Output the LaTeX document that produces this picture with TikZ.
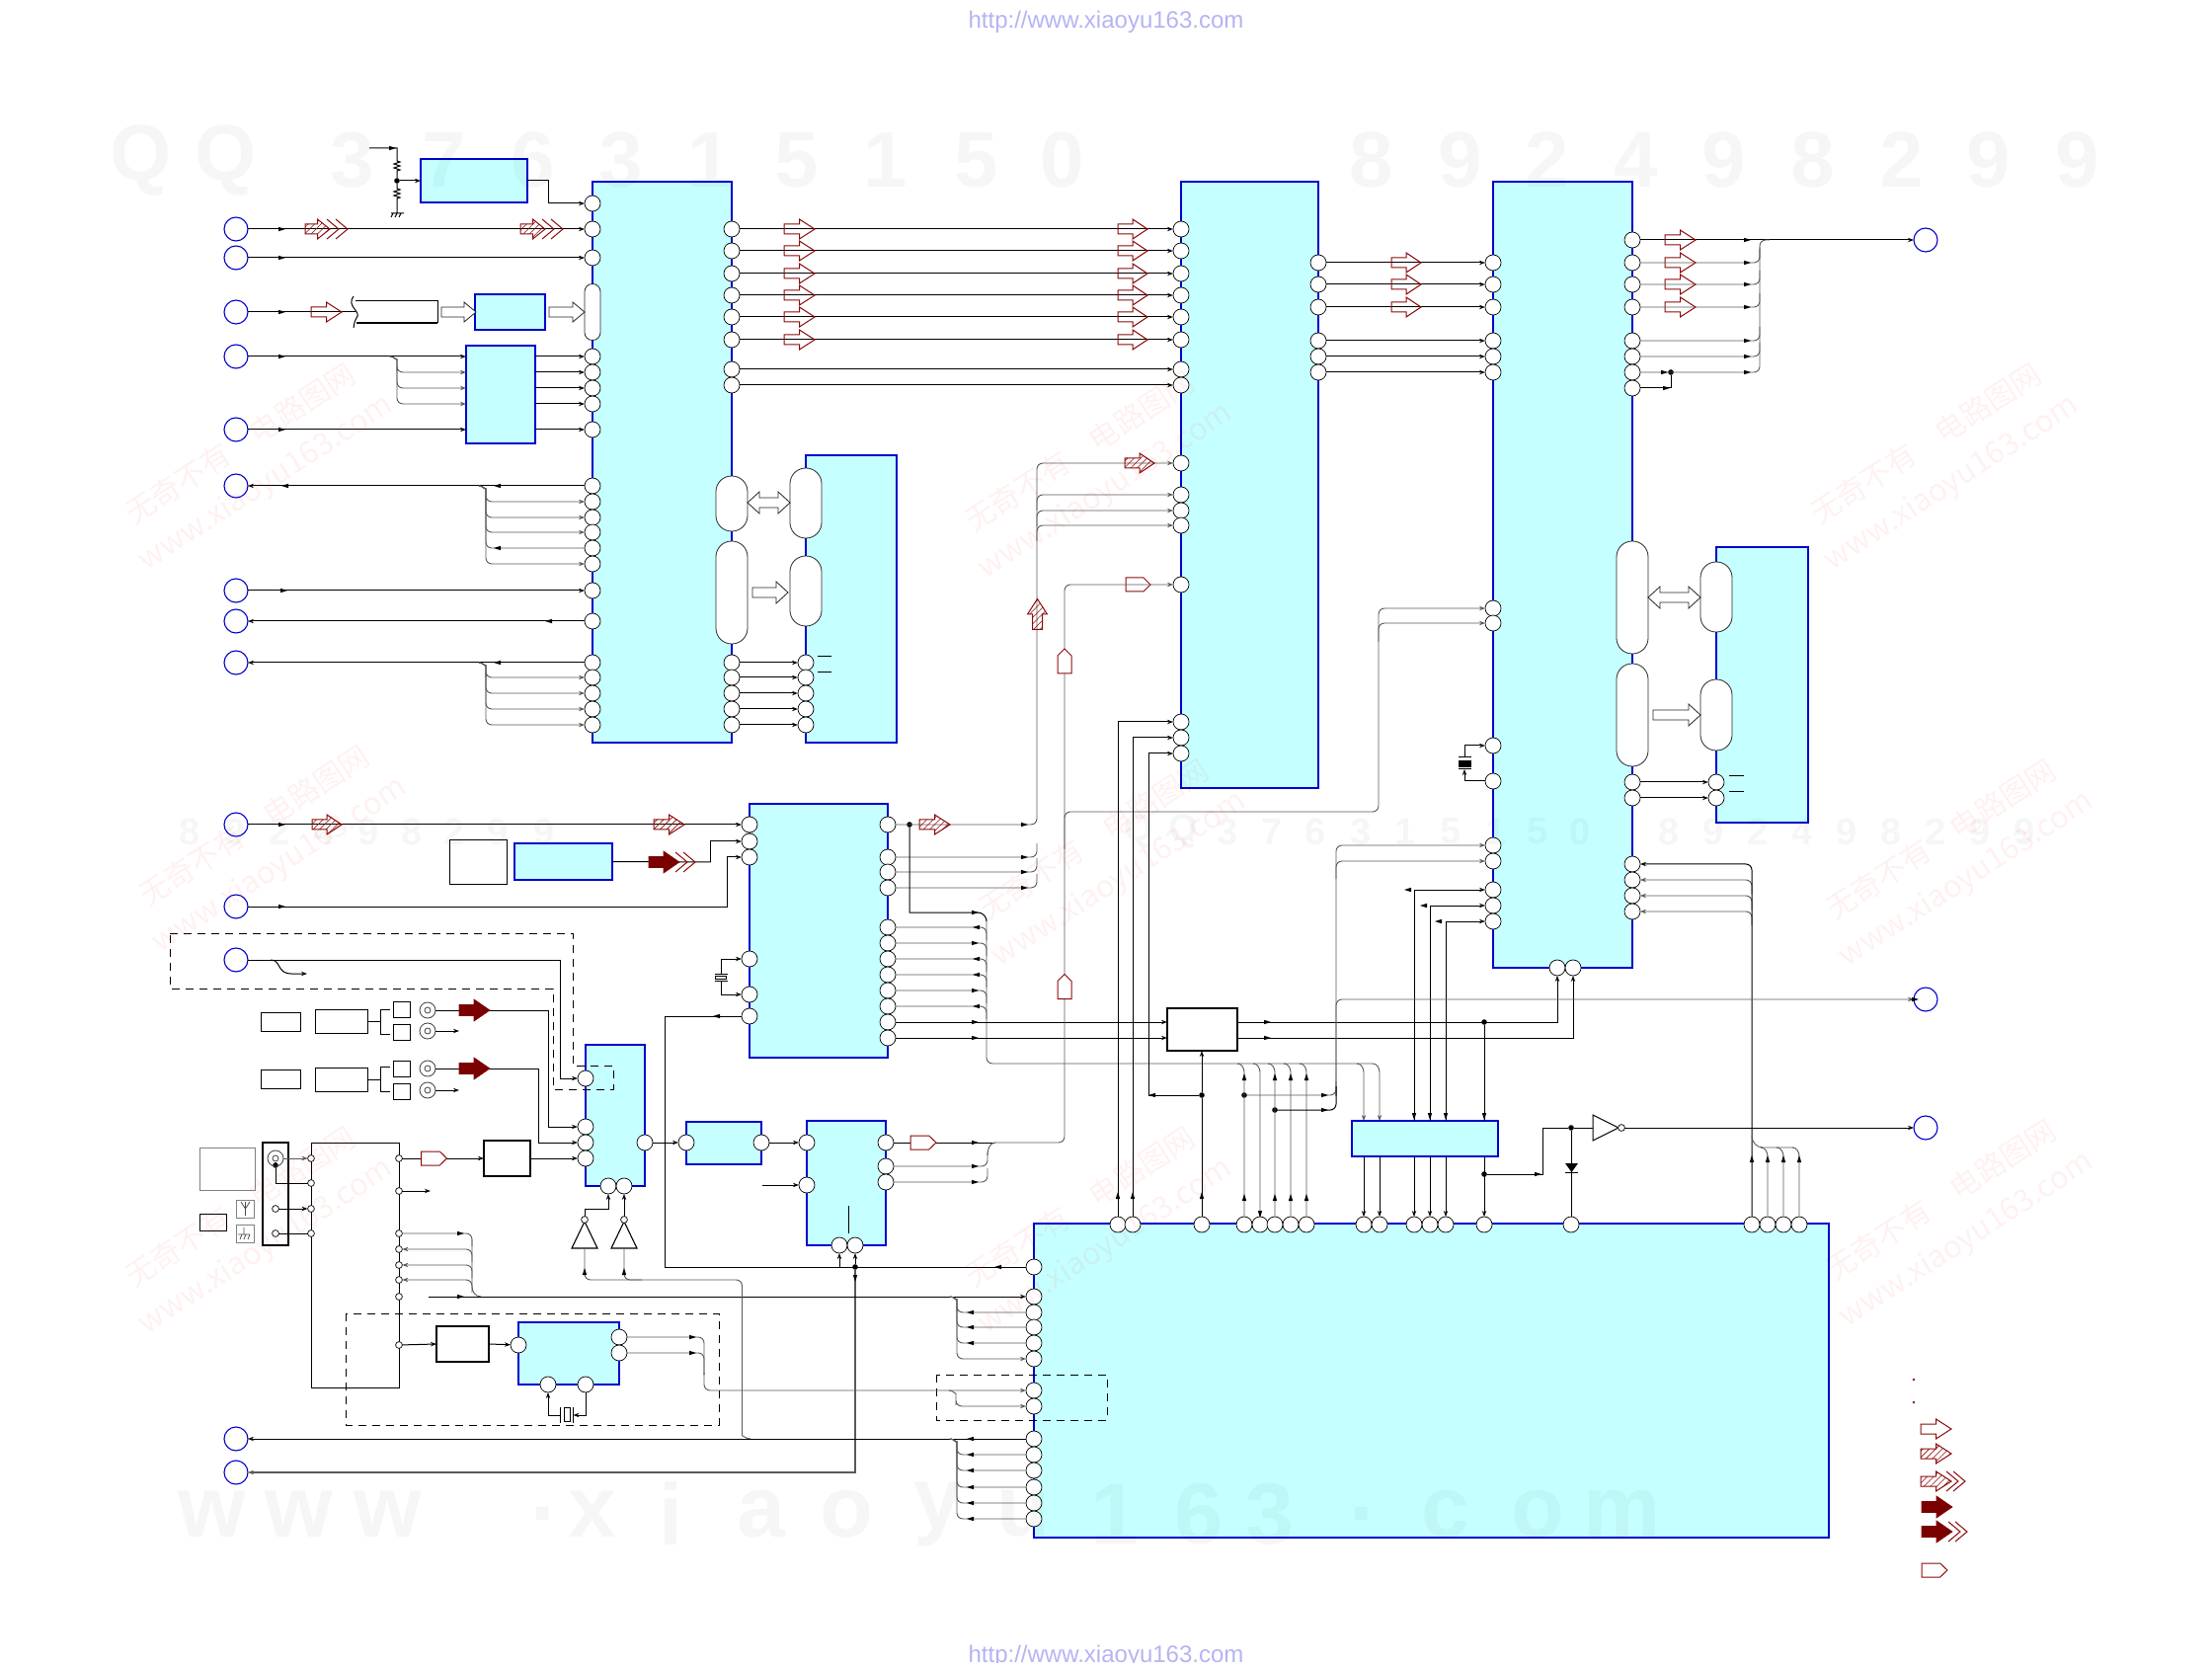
\documentclass[tikz,border=0pt]{standalone}
\usepackage{fontspec}
\setmainfont{Liberation Sans}
\newfontfamily\cjk{Noto Sans CJK SC}
\usetikzlibrary{arrows.meta,patterns.meta,calc}
\definecolor{icfill}{HTML}{C6FFFF}
\definecolor{icblue}{HTML}{0000CC}
\definecolor{dred}{HTML}{8B0A0A}
\definecolor{sred}{HTML}{7B0000}
\definecolor{urlc}{HTML}{B4B4F4}
\tikzset{
 w/.style={draw=black,line width=.5pt,>={Stealth[length=3pt,width=2.2pt]}},
 bw/.style={draw=black!65,line width=.45pt,>={Stealth[length=3pt,width=2.2pt]}},
 rc/.style={rounded corners=3pt},
 ic/.style={draw=icblue,fill=icfill,line width=.6pt},
 ict/.style={draw=icblue,fill=icfill,line width=1pt},
 pl/.style={draw=black,line width=.5pt},
 plt/.style={draw=black,line width=1.1pt},
 gb/.style={draw=black!50,line width=.5pt},
 pinc/.style={circle,draw=black,fill=white,line width=.35pt,inner sep=0,outer sep=0,minimum size=8pt},
 spinc/.style={circle,draw=black,fill=white,line width=.35pt,inner sep=0,outer sep=0,minimum size=3.4pt},
 termc/.style={circle,draw=icblue,fill=white,line width=.55pt,inner sep=0,outer sep=0,minimum size=12pt},
 dotc/.style={circle,fill=black,inner sep=0,outer sep=0,minimum size=2.8pt},
 capsl/.style={draw=black!85,fill=white,line width=.4pt,rounded corners=7.9pt,inner sep=0,outer sep=0,minimum width=16pt},
 rh/.style={draw=dred,line width=.5pt},
 rhat/.style={draw=dred,line width=.5pt,pattern={Lines[angle=45,distance=2.3pt,line width=.3pt]},pattern color=dred},
 rsol/.style={fill=sred,draw=sred,line width=.3pt},
 gh/.style={draw=black!85,fill=white,line width=.4pt},
 wmd/.style={text=red,text opacity=.055,rotate=33,font=\cjk\fontsize{15}{19}\selectfont,align=center},
 wmq/.style={text=black,text opacity=.035,font=\bfseries\fontsize{40}{40}\selectfont},
 wms/.style={text=black,text opacity=.035,font=\bfseries\fontsize{19}{19}\selectfont},
 wmw/.style={text=black,text opacity=.035,font=\bfseries\fontsize{44}{44}\selectfont},
}
\newcommand\bx[6]{\pgfmathsetmacro\bw{(#4-#2)*.5}\pgfmathsetmacro\bh{(#5-#3)*.5}%
 \node[#6,inner sep=0,outer sep=0,minimum width=\bw pt,minimum height=\bh pt,anchor=north west] (#1) at (#2,#3) {};}
\newcommand\tk[3]{\fill[black,rotate around={#3:(#1,#2)}] (#1-4,#2-2.2) -- (#1+3,#2) -- (#1-4,#2+2.2) -- cycle;}
\newcommand\branch[4][-]{\draw[bw,rc,#1] (#2-7,#3) to[out=0,in=90] (#2,#3+9) |- (#4);}
\newcommand\vbr[4][-]{\draw[bw,#1] (#2-7,#3) to[out=0,in=90] (#2,#3+9) -- (#4);}
\newcommand\arHol[4][]{\draw[rh,#1] (#2,#3-5) -- ++(#4*.5,0) -- ++(0,-5) -- (#2+#4,#3) -- (#2+#4*.5,#3+10) -- ++(0,-5) -- (#2,#3+5) -- cycle;}
\newcommand\arHat[4][]{\draw[rhat,#1] (#2,#3-5) -- ++(#4*.5,0) -- ++(0,-5) -- (#2+#4,#3) -- (#2+#4*.5,#3+10) -- ++(0,-5) -- (#2,#3+5) -- cycle;}
\newcommand\arSol[2]{\fill[rsol] (#1,#2-5.5) -- ++(15,0) -- ++(0,-5.5) -- (#1+31,#2) -- (#1+15,#2+11) -- ++(0,-5.5) -- (#1,#2+5.5) -- cycle;}
\newcommand\chev[2]{\draw[rh] (#1-12,#2-10) -- (#1,#2) -- (#1-12,#2+10);}
\newcommand\tagp[4][]{\draw[rh,fill=white,#1] (#2,#3-7) -- (#2+#4*.72,#3-7) -- (#2+#4,#3) -- (#2+#4*.72,#3+7) -- (#2,#3+7) -- cycle;}
\newcommand\arGr[4]{\draw[gh] (#1,#3-5) -- (#2-12,#3-5) -- (#2-12,#3-#4) -- (#2,#3) -- (#2-12,#3+#4) -- (#2-12,#3+5) -- (#1,#3+5) -- cycle;}
\newcommand\arDbl[3]{\draw[gh] (#1,#3) -- (#1+12,#3-11) -- (#1+12,#3-5) -- (#2-12,#3-5) -- (#2-12,#3-11) -- (#2,#3) -- (#2-12,#3+11) -- (#2-12,#3+5) -- (#1+12,#3+5) -- (#1+12,#3+11) -- cycle;}
\newcommand\jack[3]{\node[circle,draw=black!75,line width=.4pt,inner sep=0,outer sep=0,minimum size=8pt] (#1) at (#2,#3) {};\draw[black!75,line width=.4pt] (#2,#3) circle[radius=3];}
\begin{document}
\begin{tikzpicture}[x=.5pt,y=-.5pt]
\fill[white] (0,0) rectangle (2240,1684);
\useasboundingbox (0,0) rectangle (2240,1684);
\node[text=urlc,font=\fontsize{12}{14}\selectfont] (urlt) at (1120,22) {http://www.xiaoyu163.com};
\node[text=urlc,font=\fontsize{12}{14}\selectfont] (urlb) at (1120,1677) {http://www.xiaoyu163.com};
% ---------- large blocks
\bx{IA}{600}{184}{741}{752}{ic}
\bx{IB}{816}{461}{908}{752}{ic}
\bx{IC}{1196}{184}{1335}{798}{ic}
\bx{ID}{1512}{184}{1653}{980}{ic}
\bx{IE}{1738}{554}{1831}{833}{ic}
\bx{IF}{759}{814}{899}{1071}{ict}
\bx{IG}{593}{1058}{653}{1201}{ict}
\bx{IH}{695}{1136}{771}{1179}{ict}
\bx{II}{817}{1135}{897}{1261}{ict}
\bx{IJ}{1047}{1239}{1852}{1557}{ic}
\bx{IK}{1369}{1135}{1517}{1171}{ict}
\bx{IL}{525}{1339}{627}{1402}{ic}
\bx{BA}{426}{161}{534}{205}{ict}
\bx{BB}{481}{298}{552}{334}{ict}
\bx{IP}{472}{350}{542}{449}{ic}
\bx{IM}{521}{854}{620}{891}{ic}
\bx{EM}{455}{851}{513}{895}{pl}
\bx{SW}{1182}{1021}{1253}{1064}{plt}
\bx{BX}{490}{1155}{537}{1191}{plt}
\bx{BK}{442}{1343}{495}{1379}{plt}
\bx{TU}{315}{1157}{404}{1405}{pl}
\bx{CN}{266}{1157}{292}{1261}{plt}
\bx{G1}{202}{1162}{258}{1205}{gb}
\bx{G2}{202}{1229}{229}{1246}{pl}
\bx{G3}{239}{1215}{257}{1233}{gb}
\bx{G4}{239}{1240}{257}{1258}{gb}
\bx{FLT}{360}{305}{443}{327}{draw=none}
% left-hand small boxes
\bx{L1}{264}{1025}{304}{1044}{pl}
\bx{L2}{319}{1022}{372}{1046}{pl}
\bx{L3}{398}{1014}{415}{1030}{pl}
\bx{L4}{398}{1037}{415}{1053}{pl}
\bx{M1}{264}{1083}{304}{1102}{pl}
\bx{M2}{319}{1081}{372}{1105}{pl}
\bx{M3}{398}{1074}{415}{1090}{pl}
\bx{M4}{398}{1097}{415}{1113}{pl}
% ---------- dashed outlines
\draw[black,line width=.5pt,dash pattern=on 4pt off 3pt] (172,945) -- (580,945) -- (580,1079) -- (621,1079) -- (621,1103) -- (560,1103) -- (560,1001) -- (172,1001) -- cycle;
\draw[black,line width=.5pt,dash pattern=on 4pt off 3pt] (350,1330) rectangle (728,1443);
\draw[black,line width=.5pt,dash pattern=on 4pt off 3pt] (948,1392) rectangle (1121,1438);
% ---------- pins
\foreach \y in {206,232,261,361,377,393,409,435,492,508,524,539,555,571,598,629,671,686,702,718,734} \node[pinc] (A\y) at (600,\y) {};
\foreach \y in {232,254,277,299,321,344,374,390,671,686,702,718,734} \node[pinc] (Ar\y) at (741,\y) {};
\foreach \y in {671,686,702,718,734} \node[pinc] (B\y) at (816,\y) {};
\foreach \y in {232,254,277,299,321,344,374,390,469,501,517,532,592,731,747,763} \node[pinc] (C\y) at (1196,\y) {};
\foreach \y in {266,288,311,345,361,377} \node[pinc] (Cr\y) at (1335,\y) {};
\foreach \y in {266,288,311,345,361,377,616,631,755,791,856,872,901,917,933} \node[pinc] (D\y) at (1512,\y) {};
\foreach \y in {243,266,288,311,345,361,377,393,792,808,875,891,907,923} \node[pinc] (Dr\y) at (1653,\y) {};
\foreach \y in {792,808} \node[pinc] (E\y) at (1738,\y) {};
\foreach \x in {1577,1593} \node[pinc] (Db\x) at (\x,980) {};
\foreach \y in {835,852,868,971,1007,1029} \node[pinc] (F\y) at (759,\y) {};
\foreach \y in {835,868,883,899,939,955,971,987,1003,1019,1035,1051} \node[pinc] (Fr\y) at (899,\y) {};
\foreach \y in {1092,1141,1157,1173} \node[pinc] (G\y) at (593,\y) {};
\node[pinc] (Gr1157) at (653,1157) {};
\node[pinc] (Gb616) at (616,1201) {};
\node[pinc] (Gb632) at (632,1201) {};
\node[pinc] (H1) at (695,1157) {};
\node[pinc] (H2) at (771,1157) {};
\foreach \y in {1157,1200} \node[pinc] (I\y) at (817,\y) {};
\foreach \y in {1157,1181,1197} \node[pinc] (Ir\y) at (897,\y) {};
\node[pinc] (Ib850) at (850,1261) {};
\node[pinc] (Ib866) at (866,1261) {};
\foreach \x in {1132,1147,1217,1260,1276,1291,1307,1323,1381,1397,1432,1448,1464,1503,1591,1774,1790,1806,1822} \node[pinc] (J\x) at (\x,1240) {};
\foreach \y in {1283,1313,1329,1344,1360,1376,1408,1424,1457,1473,1489,1506,1522,1538} \node[pinc] (K\y) at (1047,\y) {};
\node[pinc] (P1) at (525,1362) {};
\node[pinc] (P2) at (627,1354) {};
\node[pinc] (P3) at (627,1370) {};
\node[pinc] (P4) at (555,1402) {};
\node[pinc] (P5) at (593,1402) {};
\foreach \y in {1173,1198,1224,1249} \node[spinc] (Tl\y) at (315,\y) {};
\foreach \y in {1173,1206,1249,1265,1281,1296,1313,1362} \node[spinc] (Tr\y) at (404,\y) {};
\node[spinc] (c1224) at (279,1224) {};
\node[spinc] (c1249) at (279,1249) {};
% capsules
\node[capsl,minimum width=8pt,minimum height=28.5pt,rounded corners=3.9pt] (Acap) at (600,316) {};
\node[capsl,minimum height=28pt] (Ac1) at (741,510) {};
\node[capsl,minimum height=52pt] (Ac2) at (741,600) {};
\node[capsl,minimum height=35.5pt] (Bc1) at (816,509.5) {};
\node[capsl,minimum height=35.5pt] (Bc2) at (816,598.5) {};
\node[capsl,minimum height=57pt] (Dc1) at (1653,605) {};
\node[capsl,minimum height=52pt] (Dc2) at (1653,724) {};
\node[capsl,minimum height=35.5pt] (Ec1) at (1738,604.5) {};
\node[capsl,minimum height=36pt] (Ec2) at (1738,724) {};
% terminals
\foreach \y in {232,261,316,361,435,492,598,629,671,835,918,972,1457,1491} \node[termc] (T\y) at (239,\y) {};
\foreach \y in {243,1012,1142} \node[termc] (R\y) at (1950,\y) {};
% dots and free ends
\node[dotc] (d183) at (402,183) {};
\node[dotc] (d921) at (921,835) {};
\node[dotc] (d1692) at (1692,377) {};
\node[dotc] (d1217) at (1217,1109) {};
\node[dotc] (d1260) at (1260,1109) {};
\node[dotc] (d1291) at (1291,1124) {};
\node[dotc] (d1503) at (1503,1035) {};
\node[dotc] (d1503b) at (1503,1189) {};
\node[dotc] (d1591) at (1591,1142) {};
\node[dotc] (d866) at (866,1283) {};
\node[dotc] (dj) at (279,1180) {};
\coordinate (rtop) at (374,150);
\coordinate (m1313) at (434,1313);
% ---------- resistor network
\draw[w] (rtop) -- (402,150) -- (402,163) -- ++(3,1) -- ++(-6,2) -- ++(6,2) -- ++(-6,2) -- ++(6,2) -- ++(-3,1) -- (d183) -- (402,191) -- ++(3,1) -- ++(-6,2) -- ++(6,2) -- ++(-6,2) -- ++(6,2) -- ++(-3,1) -- (402,216);
\draw[w] (396,216) -- (409,216) (398,216) -- (396,220) (402,216) -- (400,220) (406,216) -- (404,220);
\tk{398}{150}{0}
\draw[w,->] (d183) -- (BA.west);
\draw[w,->] (BA.east) -- ++(21,0) |- (A206);
% ---------- IC1 left side
\draw[w,->] (T232) -- (A232); \tk{286}{232}{0}
\draw[w,->] (T261) -- (A261); \tk{286}{261}{0}
\draw[w] (T316) -- (FLT.west); \tk{286}{316}{0}
\draw[w,->] (T361) -- (IP.west |- A361); \tk{286}{361}{0}
\draw[w,->] (T435) -- (IP.west |- A435); \tk{286}{435}{0}
\foreach \y in {377,393,409} {\branch[->]{402}{361}{IP.west |- A\y}}
\foreach \y in {361,377,393,409,435} {\draw[w,->] (IP.east |- A\y) -- (A\y);}
\draw[w,<-] (T492) -- (A492); \tk{288}{492}{180} \tk{503}{492}{180}
\foreach \y in {508,524,539,571} {\branch[->]{492}{492}{A\y}}
\branch{492}{492}{A555} \tk{503}{555}{180}
\draw[w,->] (T598) -- (A598); \tk{288}{598}{0}
\draw[w,<-] (T629) -- (A629); \tk{555}{629}{180}
\draw[w,<-] (T671) -- (A671); \tk{503}{671}{180}
\foreach \y in {686,702,718,734} {\branch[->]{492}{671}{A\y}}
% filter
\draw[black,line width=.5pt] (358,300) .. controls (350,310) and (367,316) .. (361,322) .. controls (359,326) .. (358,332);
\draw[black,line width=.5pt] (360,305) -- (443,305) -- (443,327);
\draw[black,line width=1pt] (443,327) -- (361,327);
\arGr{447}{482}{316}{10}
\arGr{556}{592}{316}{10}
% top arrows
\arHat{309}{232}{25}\chev{343}{232}\chev{352}{232}
\arHat{527}{232}{25}\chev{561}{232}\chev{570}{232}
\arHol{315}{316}{31}
% ---------- IC1 to IC3
\foreach \y in {232,254,277,299,321,344} {
  \draw[w,->] (Ar\y) -- (C\y);
  \arHol{794}{\y}{31}
  \arHol{1132}{\y}{30}
}
\foreach \y in {374,390} {\draw[w,->] (Ar\y) -- (C\y);}
\foreach \y in {671,686,702,718,734} {\draw[w,->] (Ar\y) -- (B\y);}
\draw[w] (828,665) -- (842,665) (828,681) -- (842,681);
\arDbl{757}{800}{509}
\arGr{762}{798}{600}{11}
% ---------- IC3 to IC4
\foreach \y in {266,288,311} {
  \draw[w,->] (Cr\y) -- (D\y);
  \arHol{1409}{\y}{30}
}
\foreach \y in {345,361,377} {\draw[w,->] (Cr\y) -- (D\y);}
% ---------- IC4 right
\draw[w,->] (Dr243) -- (R243); \tk{1770}{243}{0}
\foreach \y in {266,288,311} {\arHol{1686}{\y}{31}}
\arHol{1686}{243}{31}
\foreach \y in {266,288,311,345,361} {\draw[bw,rc] (Dr\y) -| (1782,\y-14); \tk{1770}{\y}{0}}
\draw[bw,rc] (Dr377) -| (1782,250); \tk{1770}{377}{0} \tk{1686}{377}{0}
\draw[bw,rc] (1782,262) |- (1792,243);
\draw[w] (Dr393) -| (d1692); \tk{1688}{393}{0}
\draw[w,->] (Dr792) -- (E792);
\draw[w,->] (Dr808) -- (E808);
\draw[w] (1751,786) -- (1766,786) (1751,802) -- (1766,802);
\arDbl{1669}{1722}{605}
\arGr{1674}{1722}{724}{11}
\foreach \y in {891,907,923} {\draw[bw,rc,->] (1774,\y+14) |- (Dr\y);}
\draw[w,rc,->] (J1774) |- (Dr875);
\tk{1774}{1173}{90}
\draw[bw] (1774,1150) to[out=-90,in=180] (1785,1162) -- (1816,1162);
\foreach \x in {1790,1806,1822} {\vbr{\x}{1162}{J\x} \tk{\x}{1173}{90}}
% ---------- crystal at IC4
\draw[w,->] (1483,767) |- (D755);
\draw[w,<-] (1483,779) -- (1483,791) -- (D791);
\draw[w] (1477,767) -- (1490,767) (1477,779) -- (1490,779);
\fill[black] (1477,770) rectangle (1490,777);
% ---------- curved pair into IC4 (616,631)
\draw[bw,rc,->] (1078,860) |- (1396,822) |- (D616);
\draw[bw,rc,->] (1396,650) |- (D631);
% ---------- IC F inputs
\draw[w,->] (T835) -- (F835); \tk{286}{835}{0}
\arHat{316}{835}{30}
\arHat{662}{835}{31}
\draw[w,->] (T918) -- (736,918) |- (F868); \tk{286}{918}{0}
\draw[w] (IM.east) -- (719.5,873);
\draw[w,->] (719.5,873) |- (F852);
\arSol{657}{873}\chev{696}{873}\chev{704}{873}
\draw[w,->] (730,986) |- (F971);
\draw[w,<-] (F1007) -| (730,993);
\draw[black,line width=.5pt] (723.5,986) -- (736.5,986) (723.5,993) -- (736.5,993);
\draw[black,line width=.5pt] (724.5,988) rectangle (735.5,991);
% ---------- IC F outputs
\draw[bw,rc,->] (Fr835) -- (1050,835) |- (C469);
\tk{1038}{835}{0}
\foreach \y in {868,883,899} {\draw[bw,rc] (Fr\y) -| (1050,\y-14); \tk{1038}{\y}{0}}
\foreach \y in {501,517,532} {\draw[bw,rc,->] (1050,\y+16) |- (C\y);}
\arHat{1139}{469}{30}
\tagp{1140}{592}{25}
\arHat[rotate around={90:(1050.5,622)}]{1035}{622}{31}
\draw[w] (d921) |- (990,924) to[out=0,in=90] (999,933);
\tk{988}{924}{0}
\arHat{931}{835}{31}
\foreach \y/\a in {939/180,955/0,971/180,987/180,1003/0,1019/180} {\draw[bw,rc] (Fr\y) -| (999,\y+13); \tk{988}{\y}{\a}}
\draw[bw,rc] (999,930) |- (1390,1077);
\foreach \y in {1035,1051} {\draw[w,->] (Fr\y) -- (SW.west |- Fr\y); \tk{988}{\y}{0}}
\draw[w,->] (SW.east |- Fr1035) -| (Db1577);
\draw[w,->] (SW.east |- Fr1051) -| (Db1593);
\tk{1284}{1035}{0} \tk{1284}{1051}{0}
% pentagon line from F
\draw[w] (Ir1157) -- (1007,1157);
\draw[bw,rc,->] (1007,1157) -- (1078,1157) |- (C592);
\tagp{922}{1157}{26}
\tk{988}{1157}{0}
\tagp[rotate around={90:(1078,669.5)}]{1065.5}{669.5}{25}
\tagp[rotate around={90:(1078,999)}]{1065.5}{999}{25}
\foreach \y in {1181,1197} {\draw[bw,rc] (Ir\y) -| (1000,\y-14); \tk{988}{\y}{0}}
\draw[bw] (1000,1170) to[out=90,in=180] (1008,1157);
% ---------- vertical trunks
\draw[w,->] (J1132) |- (C731); \tk{1132}{1210}{90}
\draw[w,->] (J1147) |- (C747); \tk{1147}{1210}{90}
\draw[w,->] (d1217) -- (1163,1109) |- (C763); \tk{1166}{1109}{180}
\draw[w,->] (J1217) -- (d1217) -- (SW.south -| d1217); \tk{1217}{1210}{90}
\vbr{1260}{1077}{J1260} \tk{1260}{1090}{90} \tk{1260}{1212}{90}
\vbr{1276}{1077}{J1276} \tk{1276}{1230}{-90}
\vbr{1291}{1077}{J1291} \tk{1291}{1090}{90} \tk{1291}{1212}{90}
\vbr{1307}{1077}{J1307} \tk{1307}{1090}{90} \tk{1307}{1212}{90}
\vbr{1323}{1077}{J1323} \tk{1323}{1090}{90} \tk{1323}{1212}{90}
\vbr[->]{1381}{1077}{IK.north -| J1381}
\vbr[->]{1397}{1077}{IK.north -| J1397}
\foreach \x in {1381,1397,1432,1448,1464,1503} {\draw[w,->] (IK.south -| J\x) -- (J\x);}
\draw[w,->] (IK.north -| J1432) |- (D901);
\draw[w,->] (IK.north -| J1448) |- (D917);
\draw[w,->] (IK.north -| J1464) |- (D933);
\tk{1425}{901}{180}\tk{1441}{917}{180}\tk{1456}{933}{180}
\foreach \x in {1432,1448,1464,1503} {\tk{\x}{1131}{-90}}
\draw[w] (d1503) -- (IK.north -| d1503);
% bus 1353
\draw[bw,rc,->] (1353,1110) |- (R1012);
\draw[bw,rc,->] (1353,1110) |- (D856);
\draw[bw,rc,->] (1353,890) |- (D872);
\draw[bw,rc] (d1260) -| (1353,1095); \tk{1342}{1109}{0}
\draw[w,rc] (d1291) -| (1353,1100); \tk{1342}{1124}{0}
\tk{1940}{1012}{0}
% lower right
\draw[w] (d1503b) -- (1562,1189) |- (d1591); \tk{1558}{1189}{0}
\draw[w] (J1591) -- (d1591);
\fill[black] (1585,1178) -- (1598,1178) -- (1591.5,1187) -- cycle;
\draw[w] (1585,1187) -- (1598,1187);
\draw[w] (d1591) -- (1613,1142);
\draw[black,line width=.5pt,fill=white] (1613,1129) -- (1639,1142) -- (1613,1155) -- cycle;
\node[spinc] (bub) at (1642,1142) {};
\draw[w,->] (bub) -- (R1142);
% ---------- left lower region
\draw[w,->] (T972) -- (567,972) |- (G1092);
\draw[w,->] (274,972) .. controls (285,972) and (280,986) .. (295,986) -- (311,986);
\draw[w] (L2.east) -- (385,1034); \draw[w] (395,1022) -- (385,1022) -- (385,1047) -- (395,1047);
\draw[w] (M2.east) -- (385,1093); \draw[w] (395,1080) -- (385,1080) -- (385,1105) -- (395,1105);
\jack{J1}{433}{1023}\jack{J2}{433}{1044}\jack{J3}{433}{1082}\jack{J4}{433}{1104}
\draw[w] (J1) -- (555,1023);
\draw[w,->] (555,1023) |- (G1141);
\draw[w,->] (J2) -- (465,1044);
\draw[w] (J3) -- (545.5,1082);
\draw[w,->] (545.5,1082) |- (G1157);
\draw[w,->] (J4) -- (465,1104);
\arSol{465}{1023}
\arSol{465}{1082}
\draw[w,->] (Gr1157) -- (H1);
\draw[w,->] (H2) -- (I1157);
\draw[w,->] (772,1200) -- (I1200);
\draw[w] (859,1221) -- (859,1249);
\draw[w] (F1029) -- (673,1029) |- (K1283); \tk{725}{1029}{180} \tk{1010}{1283}{180}
\draw[w,->] (Ib850 |- K1283) -- (Ib850);
\draw[w,->] (d866) -- (Ib866);
\draw[bw,line width=.6pt,<-] (T1491) -- (866,1491) -- (d866); \tk{866}{1295}{-90}
% connector block
\jack{J5}{279}{1173}
\draw[bw,->] (J5) -- (Tl1173);
\draw[w] (J5) -- (dj);
\draw[w] (dj) |- (Tl1198);
\draw[w,->] (c1224) -- (Tl1224);
\draw[w] (c1249) -- (Tl1249);
% symbols
\draw[black!70,line width=.4pt] (248.5,1231) -- (248.5,1217) (244,1217) -- (248.5,1224) -- (253,1217);
\draw[black!70,line width=.4pt] (247,1243) -- (247,1250) (241,1250) -- (253,1250) (243,1255) -- (245,1250) (247,1255) -- (249,1250) (251,1255) -- (253,1250);
% tuner outputs
\draw[w,->] (Tr1173) -- (BX.west); \tagp{426.5}{1173}{26}
\draw[w,->] (BX.east) -- (G1173);
\draw[w,->] (Tr1206) -- (436,1206);
\draw[bw,rc] (Tr1249) -| (478,1262); \tk{467}{1249}{0}
\foreach \y in {1265,1281,1296} {\draw[bw,rc,<-] (Tr\y) -| (478,\y+13);}
\draw[bw] (478,1255) -- (478,1303) to[out=-90,in=180] (487,1313);
\draw[w,->] (m1313) -- (K1313); \tk{467}{1313}{0}
\foreach \y in {1329,1344,1360} {\branch{969}{1313}{K\y} \tk{982}{\y}{180}}
\branch[->]{969}{1313}{K1376}
\draw[w,->] (Tr1362) -- (BK.west);
\draw[w,->] (BK.east) -- (P1);
\draw[bw,rc] (P2) -| (713,1392); \tk{702}{1354}{0}
\draw[bw,rc] (P3) -| (713,1392); \tk{702}{1370}{0}
\draw[bw,rc,->] (713,1390) |- (K1408);
\branch[->]{968}{1408}{K1424}
\draw[w,->] (567.5,1433) -| (P4);
\draw[w,<-] (580.5,1433) -| (P5);
\draw[black,line width=.5pt] (567.5,1425) -- (567.5,1441) (580.5,1425) -- (580.5,1441) (571.5,1425) rectangle (577,1439);
% buffers
\draw[black,line width=.55pt] (579,1264) -- (592,1237) -- (605,1264) -- cycle;
\draw[black,line width=.55pt] (619,1264) -- (632,1237) -- (645,1264) -- cycle;
\node[spinc] (b592) at (592,1235) {};
\node[spinc] (b632) at (632,1235) {};
\draw[w,->] (b592) -- (592,1224) -| (Gb616);
\draw[w,->] (b632) -- (Gb632);
\draw[bw,rc] (592,1264) |- (751.5,1296) -- (751.5,1448) to[out=-90,in=180] (760,1457);
\draw[bw,rc] (632,1264) |- (650,1296);
\tk{592}{1287}{90}\tk{632}{1287}{90}
\draw[w,<-] (T1457) -- (K1457); \tk{982}{1457}{180}
\foreach \y in {1473,1489,1506,1522,1538} {\branch{969}{1457}{K\y} \tk{982}{\y}{180}}
% ---------- legend
\fill[dred] (1938,1397) circle[radius=1.3];
\fill[dred] (1938,1420) circle[radius=1.3];
\arHol{1945}{1447}{31}
\arHat{1945}{1472}{31}
\arHat{1945}{1500}{31}\chev{1983}{1500}\chev{1990}{1500}
\arSol{1946}{1526}
\arSol{1946}{1551}\chev{1985}{1551}\chev{1992}{1551}
\tagp{1946}{1590}{26}
% ---------- watermarks
\foreach \x/\c in {143/Q,229/Q,357/3,450/7,540/6,629/3,719/1,807/5,897/1,989/5,1076/0,1389/8,1479/9,1567/2,1657/4,1746/9,1836/8,1926/2,2014/9,2104/9}
  \node[wmq] at (\x,162) {\c};
\foreach \x/\c in {192/8,238/9,283/2,328/4,373/9,417/8,460/2,504/9,551/9,1153/Q,1198/Q,1243/3,1288/7,1332/6,1378/3,1423/1,1469/5,1515/1,1557/5,1600/0,1690/8,1735/9,1780/2,1825/4,1870/9,1915/8,1960/2,2005/9,2050/9}
  \node[wms] at (\x,842) {\c};
\foreach \x/\c in {215/w,303/w,393/w,550/.,600/x,680/i,771/a,857/o,950/y,1036/u,1129/1,1214/6,1286/3,1379/.,1464/c,1557/o,1643/m}
  \node[wmw] at (\x,1533) {\c};
\foreach \x/\y in {257/470,1107/478,1964/470,271/857,1121/871,1979/871,257/1243,1107/1243,1979/1236}
  \node[wmd] at (\x,\y) {无奇不有\quad 电路图网\\[4pt]{\fontsize{15.5}{19}\selectfont www.xiaoyu163.com}};
\end{tikzpicture}
\end{document}
